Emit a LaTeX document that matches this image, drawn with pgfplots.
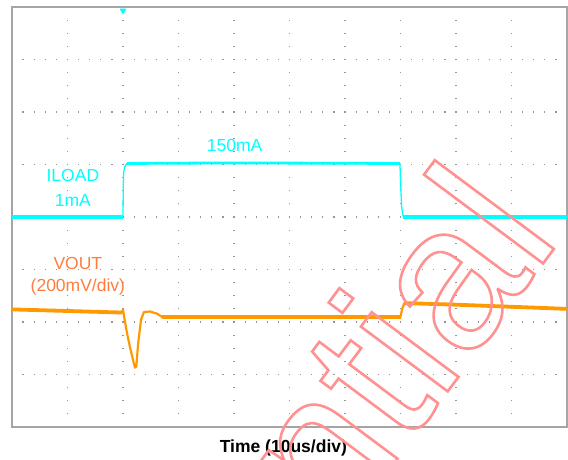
\documentclass[border=0pt]{standalone}
\usepackage{fontspec}
\setmainfont{Liberation Sans}
\usepackage{pgfplots}
\pgfplotsset{compat=1.18}
\definecolor{scyan}{RGB}{0,255,255}
\definecolor{sorange}{RGB}{255,153,0}
\definecolor{lorange}{RGB}{255,125,60}
\definecolor{framec}{RGB}{165,165,165}
\definecolor{dotc}{RGB}{150,150,150}
\definecolor{wmark}{RGB}{255,145,145}
\begin{document}
\begin{tikzpicture}[x=1pt,y=1pt]
\useasboundingbox (0,0) rectangle (568,459);
\begin{axis}[at={(12pt,32pt)}, anchor=south west, scale only axis,
  width=555pt, height=420pt,
  xmin=0, xmax=10, ymin=0, ymax=8,
  xtick={1,...,9}, ytick={1,...,7}, xticklabels={}, yticklabels={},
  major tick length=0pt, grid=major,
  x grid style={dotc, line width=1.2pt, dash pattern=on 1.2pt off 11.925pt, dash phase=0.6pt},
  y grid style={dotc, line width=1.2pt, dash pattern=on 1.2pt off 9.9pt, dash phase=0.6pt},
  axis line style={framec, line width=1.5pt}, clip=false,
  every axis plot/.append style={line join=round}]
% ILOAD trace (divisions)
\addplot[scyan, line width=1.3pt] coordinates {
(0,4.0) (2.0,4.0) (2.005,4.6) (2.012,4.85) (2.03,4.95) (2.07,5.02) (2.15,5.03)
(4,5.03) (6.0,5.02) (6.99,5.02) (7.0,4.7) (7.02,4.2) (7.05,4.0) (10,4.0)};
\addplot[scyan, line width=4pt] coordinates {(0,4.0) (2.0,4.0)};
\addplot[scyan, line width=4pt] coordinates {(7.05,4.0) (10,4.0)};
\addplot[scyan, line width=2.8pt] coordinates {(2.07,5.02) (4,5.03) (6.99,5.02)};
% VOUT trace (divisions)
\addplot[sorange, line width=2.2pt] coordinates {
(0,2.24) (1.0,2.21) (1.98,2.18) (2.0,2.24) (2.02,2.1) (2.07,1.8) (2.126,1.52)
(2.18,1.28) (2.216,1.13) (2.24,1.15) (2.27,1.56) (2.324,2.04) (2.378,2.19)
(2.486,2.2) (2.61,2.16) (2.70,2.10) (4,2.10) (7.0,2.10) (7.03,2.25) (7.07,2.36)
(8,2.33) (9,2.29) (10,2.25)};
\addplot[sorange, line width=3.8pt] coordinates {(0,2.24) (1.0,2.21) (1.98,2.18)};
\addplot[sorange, line width=3.8pt] coordinates {(2.70,2.10) (4,2.10) (7.0,2.10)};
\addplot[sorange, line width=3.8pt] coordinates {(7.07,2.36) (8,2.33) (9,2.29) (10,2.25)};
% trigger marker
\addplot[only marks, mark=triangle*, mark size=3.5pt,
  mark options={rotate=180, fill=scyan, draw=scyan}] coordinates {(2,7.93)};
% labels
\node[scyan, font=\fontsize{17.5}{21}\selectfont] at (axis cs:1.097,4.8) {ILOAD};
\node[scyan, font=\fontsize{17.5}{21}\selectfont] at (axis cs:1.097,4.32) {1mA};
\node[scyan, font=\fontsize{17.5}{21}\selectfont] at (axis cs:4.01,5.37) {150mA};
\node[lorange, font=\fontsize{17.5}{21}\selectfont] at (axis cs:1.187,3.12) {VOUT};
\node[lorange, font=\fontsize{17.5}{21}\selectfont] at (axis cs:1.187,2.67) {(200mV/div)};
\node[black, anchor=base, font=\bfseries\fontsize{17.5}{21}\selectfont] at (axis cs:4.89,-0.495) {Time (10us/div)};
\end{axis}
% watermark (outlined text)
\node[wmark, rotate=53.3, anchor=base east, inner sep=0pt, outer sep=0pt,
  font=\fontsize{205}{240}\selectfont] at (562.2,221.2)
  {\special{pdf:literal direct 1 Tr 2.6 w}Confidential\special{pdf:literal direct 0 Tr}};
\end{tikzpicture}
\end{document}
